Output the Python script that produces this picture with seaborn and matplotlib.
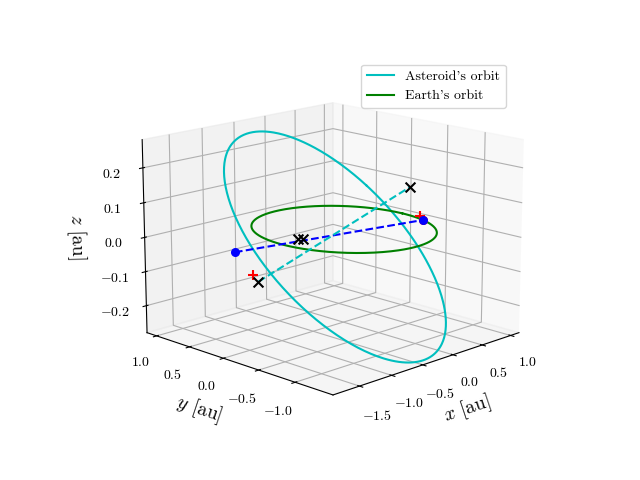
import numpy as np
import matplotlib
matplotlib.use("Agg")
import matplotlib.pyplot as plt
import seaborn as sns

plt.rcParams.update({"font.family": "serif", "font.serif": ["cmr10"],
                     "mathtext.fontset": "cm", "axes.formatter.use_mathtext": True,
                     "axes.unicode_minus": True})

# orbital elements (asteroid)
a_ast, e_ast, inc_deg, Omega_deg, omega_deg = 1.24, 0.25, 13.0, 5.0, 20.0
earth_radius = 1.0
# marked points (x, y, z)
blue_pts = np.array([[-1.5, 0.2, -0.01], [0.94, -0.34, 0.0]])
red_pts = np.array([[0.95, -0.33, 0.0]])
cross_pts = np.array([[-1.07, 0.27, -0.12], [0.31, -0.66, 0.14], [-0.66, 0.0, 0.0], [-0.7, 0.03, 0.0]])
plus_pts = np.array([[-1.12, 0.3, -0.10], [0.82, -0.4, 0.02]])

nu = np.linspace(0, 2*np.pi, 400)
r = a_ast*(1-e_ast**2)/(1+e_ast*np.cos(nu))
px, py = r*np.cos(nu), r*np.sin(nu)
w, O, i = np.radians([omega_deg, Omega_deg, inc_deg])
x1 = px*np.cos(w) - py*np.sin(w); y1 = px*np.sin(w) + py*np.cos(w)
z = y1*np.sin(i); y2 = y1*np.cos(i)
X = x1*np.cos(O) - y2*np.sin(O); Y = x1*np.sin(O) + y2*np.cos(O)

fig = plt.figure(figsize=(6.4, 4.8), dpi=100)
ax = fig.add_subplot(projection="3d")
ax.plot(X, Y, z, color="c", label="Asteroid's orbit")
ax.plot(earth_radius*np.cos(nu), earth_radius*np.sin(nu), 0*nu, color="g", label="Earth's orbit")
ax.plot(blue_pts[:, 0], blue_pts[:, 1], blue_pts[:, 2], "b--")
ax.plot(cross_pts[:2, 0], cross_pts[:2, 1], cross_pts[:2, 2], "c--")
ax.scatter(red_pts[:, 0], red_pts[:, 1], red_pts[:, 2], color="r", s=30, depthshade=False)
ax.scatter(blue_pts[:, 0], blue_pts[:, 1], blue_pts[:, 2], color="b", s=30, depthshade=False)
ax.scatter(cross_pts[:, 0], cross_pts[:, 1], cross_pts[:, 2], color="k", marker="x", s=50, depthshade=False)
ax.scatter(plus_pts[:, 0], plus_pts[:, 1], plus_pts[:, 2], color="r", marker="+", s=50, depthshade=False)
ax.set_xlabel(r"$x$ [au]", fontsize=14)
ax.set_ylabel(r"$y$ [au]", fontsize=14)
ax.set_zlabel(r"$z$ [au]", fontsize=14)
ax.set_xticks([-1.5, -1.0, -0.5, 0.0, 0.5, 1.0])
ax.set_yticks([-1.0, -0.5, 0.0, 0.5, 1.0])
ax.set_zticks([-0.2, -0.1, 0.0, 0.1, 0.2])
ax.set_xlim(-1.9, 1.15)
ax.set_ylim(-1.5, 1.15)
ax.set_zlim(-0.28, 0.28)
ax.view_init(elev=15, azim=-135)
ax.set_box_aspect(None, zoom=1.12)
ax.legend()
fig.savefig("out.png")
